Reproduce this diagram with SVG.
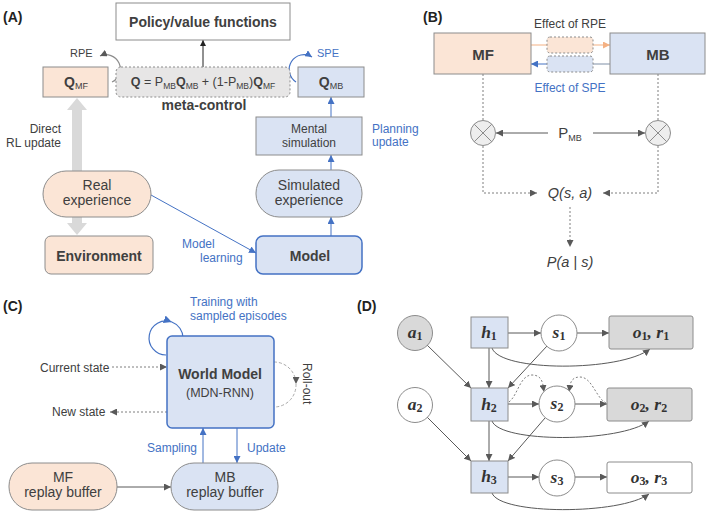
<svg xmlns="http://www.w3.org/2000/svg" width="708" height="514" viewBox="0 0 708 514">
<defs>
<style>
text{font-family:"Liberation Sans",Arial,sans-serif;fill:#404040}
.b{font-weight:bold}
.lab{font-weight:bold;font-size:14px;fill:#222}
.blue{fill:#4472c4}
.peach{fill:#fbe5d6;stroke:#8c8c8c;stroke-width:1}
.lblue{fill:#dae3f3;stroke:#8c8c8c;stroke-width:1}
.gry{fill:#d9d9d9;stroke:#8c8c8c;stroke-width:1}
.wht{fill:#fff;stroke:#8c8c8c;stroke-width:1}
.bst{stroke:#4472c4;stroke-width:1.5}
.cg{fill:none;stroke:#595959;stroke-width:1}
.cgd{fill:none;stroke:#7f7f7f;stroke-width:1;stroke-dasharray:2,2}
.cb{fill:none;stroke:#4472c4;stroke-width:1}
.m{font-family:"Liberation Serif","DejaVu Serif",serif;font-weight:bold;font-style:italic;font-size:17.5px;fill:#333}
.ms{font-style:normal;font-size:12px}
</style>
<marker id="ag" viewBox="0 0 10 10" refX="10" refY="5" markerWidth="7" markerHeight="7" orient="auto" markerUnits="userSpaceOnUse"><path d="M0,0L10,5L0,10z" fill="#595959"/></marker>
<marker id="ab" viewBox="0 0 10 10" refX="10" refY="5" markerWidth="7" markerHeight="7" orient="auto" markerUnits="userSpaceOnUse"><path d="M0,0L10,5L0,10z" fill="#4472c4"/></marker>
<marker id="ao" viewBox="0 0 10 10" refX="10" refY="5" markerWidth="7" markerHeight="7" orient="auto" markerUnits="userSpaceOnUse"><path d="M0,0L10,5L0,10z" fill="#f4b183"/></marker>
<marker id="ak" viewBox="0 0 10 10" refX="10" refY="5" markerWidth="6" markerHeight="6" orient="auto" markerUnits="userSpaceOnUse"><path d="M0,0L10,5L0,10z" fill="#222"/></marker>
<marker id="al" viewBox="0 0 10 10" refX="10" refY="5" markerWidth="8" markerHeight="8" orient="auto" markerUnits="userSpaceOnUse"><path d="M0,0L10,5L0,10z" fill="#4472c4"/></marker>
</defs>
<rect width="708" height="514" fill="#fff"/>

<!-- panel labels -->
<text class="lab" x="3" y="22">(A)</text>
<text class="lab" x="423" y="22">(B)</text>
<text class="lab" x="3" y="311">(C)</text>
<text class="lab" x="357" y="311">(D)</text>

<g id="connectors">
  <!-- A -->
  <polygon points="77,98 87,110 82,110 82,223 87,223 77,235 67,223 72,223 72,110 67,110" fill="#d9d9d9"/>
  <line x1="203" y1="67" x2="203" y2="40" stroke="#222" stroke-width="1" marker-end="url(#ak)"/>
  <path d="M112,82 A14,14 0 1 0 100,56" fill="none" stroke="#8c8c8c" stroke-width="1.2" marker-end="url(#ag)"/>
  <path d="M296,82 A14,14 0 1 1 312,57" fill="none" stroke="#4472c4" stroke-width="1.2" marker-end="url(#ab)"/>
  <line class="cb" x1="331" y1="117" x2="331" y2="97" marker-end="url(#ab)"/>
  <line class="cb" x1="331" y1="170" x2="331" y2="155" marker-end="url(#ab)"/>
  <line class="cb" x1="331" y1="236" x2="331" y2="217" marker-end="url(#ab)"/>
  <line class="cb" x1="151" y1="195" x2="256" y2="253" marker-end="url(#ab)"/>
  <!-- B -->
  <line x1="531" y1="45" x2="547" y2="45" stroke="#f4b183" stroke-width="1"/>
  <line x1="593" y1="45" x2="610" y2="45" stroke="#f4b183" stroke-width="1" marker-end="url(#ao)"/>
  <line x1="610" y1="64" x2="593" y2="64" stroke="#7f8fa6" stroke-width="1"/>
  <line x1="547" y1="64" x2="531" y2="64" stroke="#4472c4" stroke-width="1" marker-end="url(#ab)"/>
  <line class="cgd" x1="483" y1="74" x2="483" y2="120"/>
  <line class="cgd" x1="658" y1="74" x2="658" y2="120"/>
  <line class="cg" x1="548" y1="133" x2="496" y2="133" marker-end="url(#ag)"/>
  <line class="cg" x1="593" y1="133" x2="645" y2="133" marker-end="url(#ag)"/>
  <path class="cgd" d="M483,146 V193 H537" marker-end="url(#ag)"/>
  <path class="cgd" d="M658,146 V193 H603" marker-end="url(#ag)"/>
  <line class="cgd" x1="570" y1="207" x2="570" y2="247" marker-end="url(#ag)"/>
  <!-- C -->
  <path d="M166,355 A17,17 0 1 1 171.8,322" fill="none" stroke="#4472c4" stroke-width="1.2" marker-end="url(#al)"/>
  <path d="M171.8,322 A17,17 0 0 1 183,338" fill="none" stroke="#4472c4" stroke-width="1.2"/>
  <line class="cgd" x1="112" y1="367" x2="167" y2="367" marker-end="url(#ag)"/>
  <line class="cgd" x1="167" y1="412" x2="110" y2="412" marker-end="url(#ag)"/>
  <path d="M274,362 A22,22 0 0 1 296,384" fill="none" stroke="#aaa" stroke-width="1" stroke-dasharray="3,2" marker-end="url(#ag)"/>
  <path d="M296,384 A22,22 0 0 1 275,407" fill="none" stroke="#aaa" stroke-width="1" stroke-dasharray="3,2"/>
  <line class="cb" x1="203" y1="463" x2="203" y2="428" marker-end="url(#ab)"/>
  <line class="cb" x1="237" y1="428" x2="237" y2="463" marker-end="url(#ab)"/>
  <line class="cg" x1="117" y1="487" x2="171" y2="487" marker-end="url(#ag)"/>
  <!-- D -->
  <line class="cg" x1="508" y1="333" x2="541" y2="333" marker-end="url(#ag)"/>
  <line class="cg" x1="577" y1="333" x2="609" y2="333" marker-end="url(#ag)"/>
  <path class="cg" d="M492,348 C500,372 620,372 650,349" marker-end="url(#ag)"/>
  <line class="cg" x1="427" y1="345" x2="471" y2="388" marker-end="url(#ag)"/>
  <line class="cg" x1="489" y1="348" x2="489" y2="388" marker-end="url(#ag)"/>
  <line class="cg" x1="547" y1="346" x2="508" y2="388" marker-end="url(#ag)"/>
  <line class="cg" x1="508" y1="404" x2="539" y2="404" marker-end="url(#ag)"/>
  <line class="cg" x1="575" y1="404" x2="607" y2="404" marker-end="url(#ag)"/>
  <path class="cgd" d="M509,402 C518,395 520,375 532,375 C543,375 543,385 544,392" marker-end="url(#ag)"/>
  <path class="cgd" d="M606,403 C596,398 592,377 580,377 C570,377 570,385 569,392" marker-end="url(#ag)"/>
  <path class="cg" d="M492,421 C500,443 620,443 649,421" marker-end="url(#ag)"/>
  <line class="cg" x1="427" y1="417" x2="471" y2="461" marker-end="url(#ag)"/>
  <line class="cg" x1="489" y1="421" x2="489" y2="461" marker-end="url(#ag)"/>
  <line class="cg" x1="545" y1="418" x2="508" y2="461" marker-end="url(#ag)"/>
  <line class="cg" x1="508" y1="477" x2="539" y2="477" marker-end="url(#ag)"/>
  <line class="cg" x1="575" y1="477" x2="607" y2="477" marker-end="url(#ag)"/>
  <path class="cg" d="M492,493 C500,515 620,515 649,494" marker-end="url(#ag)"/>
</g>

<!-- Panel A nodes -->
<g id="policy">
  <rect x="116" y="3" width="174" height="37" fill="#fff" stroke="#8c8c8c"/>
  <text x="203" y="27" text-anchor="middle" class="b" font-size="14">Policy/value functions</text>
</g>
<g id="qmf">
  <rect x="43" y="67" width="65" height="30" class="peach"/>
  <text x="76" y="87" text-anchor="middle" font-size="14"><tspan class="b">Q</tspan><tspan font-size="9" dy="2">MF</tspan></text>
</g>
<g id="metacontrol">
  <rect x="116" y="67" width="174" height="30" rx="5" fill="#e7e6e6" stroke="#8c8c8c" stroke-dasharray="2,2"/>
  <text x="203" y="86" text-anchor="middle" font-size="12.5" fill="#222"><tspan class="b">Q</tspan> = P<tspan font-size="8.5" dy="3">MB</tspan><tspan class="b" dy="-3">Q</tspan><tspan font-size="8.5" dy="3">MB</tspan><tspan dy="-3"> + (1-P</tspan><tspan font-size="8.5" dy="3">MB</tspan><tspan dy="-3">)</tspan><tspan class="b">Q</tspan><tspan font-size="8.5" dy="3">MF</tspan></text>
  <text x="204" y="110" text-anchor="middle" class="b" font-size="14" fill="#222">meta-control</text>
</g>
<g id="qmb">
  <rect x="298" y="67" width="66" height="30" class="lblue"/>
  <text x="331" y="87" text-anchor="middle" font-size="14"><tspan class="b">Q</tspan><tspan font-size="9" dy="2">MB</tspan></text>
</g>
<text x="70" y="57" font-size="11" fill="#666">RPE</text>
<text x="317" y="57" font-size="11" class="blue">SPE</text>
<text x="61" y="133" font-size="12" text-anchor="end" fill="#555">Direct</text>
<text x="61" y="147" font-size="12" text-anchor="end" fill="#555">RL update</text>
<g id="mental">
  <rect x="256" y="117" width="106" height="38" class="lblue"/>
  <text x="309" y="133" text-anchor="middle" font-size="12">Mental</text>
  <text x="309" y="147" text-anchor="middle" font-size="12">simulation</text>
</g>
<text x="372" y="133" font-size="12" class="blue">Planning</text>
<text x="372" y="146" font-size="12" class="blue">update</text>
<g id="realexp">
  <rect x="43" y="171" width="108" height="46" rx="23" class="peach"/>
  <text x="97" y="190" text-anchor="middle" font-size="14">Real</text>
  <text x="97" y="205" text-anchor="middle" font-size="14">experience</text>
</g>
<g id="simexp">
  <rect x="256" y="170" width="106" height="47" rx="23" class="lblue"/>
  <text x="309" y="190" text-anchor="middle" font-size="14">Simulated</text>
  <text x="309" y="205" text-anchor="middle" font-size="14">experience</text>
</g>
<g id="environment">
  <rect x="45" y="236" width="108" height="38" rx="6" class="peach"/>
  <text x="99" y="261" text-anchor="middle" class="b" font-size="14" fill="#333">Environment</text>
</g>
<text x="182" y="248" font-size="12" class="blue">Model</text>
<text x="200" y="262" font-size="12" class="blue">learning</text>
<g id="model">
  <rect x="256" y="236" width="106" height="38" rx="7" fill="#dae3f3" class="bst"/>
  <text x="310" y="261" text-anchor="middle" class="b" font-size="14" fill="#333">Model</text>
</g>

<!-- Panel B -->
<text x="570" y="28" text-anchor="middle" font-size="12" fill="#ed7d31">Effect of RPE</text>
<text x="570" y="92" text-anchor="middle" font-size="12" class="blue">Effect of SPE</text>
<g id="mf">
  <rect x="434" y="33" width="97" height="41" class="peach"/>
  <text x="483" y="60" text-anchor="middle" class="b" font-size="15" fill="#333">MF</text>
</g>
<g id="mb">
  <rect x="610" y="33" width="95" height="41" class="lblue"/>
  <text x="658" y="60" text-anchor="middle" class="b" font-size="15" fill="#333">MB</text>
</g>
<g id="rpebox"><rect x="547" y="37" width="46" height="16" rx="3" fill="#fbe5d6" stroke="#8c8c8c" stroke-dasharray="2,2"/></g>
<g id="spebox"><rect x="547" y="56" width="46" height="16" rx="3" fill="#dae3f3" stroke="#8c8c8c" stroke-dasharray="2,2"/></g>
<g id="mulL">
  <circle cx="483" cy="133" r="12.5" fill="#eee" stroke="#8c8c8c"/>
  <path d="M474.2,124.2 L491.8,141.8 M491.8,124.2 L474.2,141.8" stroke="#8c8c8c"/>
</g>
<g id="mulR">
  <circle cx="658" cy="133" r="12.5" fill="#eee" stroke="#8c8c8c"/>
  <path d="M649.2,124.2 L666.8,141.8 M666.8,124.2 L649.2,141.8" stroke="#8c8c8c"/>
</g>
<g id="pmb"><text x="570" y="138" text-anchor="middle" font-size="15" fill="#333">P<tspan font-size="9" dy="3">MB</tspan></text></g>
<g id="qsa"><text x="570" y="198" text-anchor="middle" font-size="14.5" font-style="italic" fill="#333">Q(s, a)</text></g>
<g id="pas"><text x="570" y="267" text-anchor="middle" font-size="14.5" font-style="italic" fill="#333">P(a | s)</text></g>

<!-- Panel C -->
<text x="190" y="306" font-size="12" class="blue">Training with</text>
<text x="190" y="320" font-size="12" class="blue">sampled episodes</text>
<text x="40" y="372" font-size="12" fill="#555">Current state</text>
<text x="52" y="416" font-size="12" fill="#555">New state</text>
<g id="worldmodel">
  <rect x="167" y="336" width="107" height="92" rx="5" fill="#dae3f3" class="bst"/>
  <text x="220" y="379" text-anchor="middle" class="b" font-size="14" fill="#333">World Model</text>
  <text x="220" y="397" text-anchor="middle" font-size="12.5">(MDN-RNN)</text>
</g>
<text transform="translate(303,363) rotate(90)" font-size="12" fill="#444">Roll-out</text>
<text x="147" y="452" font-size="12" class="blue">Sampling</text>
<text x="247" y="452" font-size="12" class="blue">Update</text>
<g id="mfbuffer">
  <rect x="9" y="463" width="108" height="47" rx="23" class="peach"/>
  <text x="63" y="482" text-anchor="middle" font-size="14">MF</text>
  <text x="63" y="497" text-anchor="middle" font-size="14">replay buffer</text>
</g>
<g id="mbbuffer">
  <rect x="171" y="463" width="107" height="47" rx="23" class="lblue"/>
  <text x="225" y="482" text-anchor="middle" font-size="14">MB</text>
  <text x="225" y="497" text-anchor="middle" font-size="14">replay buffer</text>
</g>

<!-- Panel D -->
<g id="a1"><circle cx="415" cy="333" r="17.5" class="gry"/><text class="m" x="415" y="338" text-anchor="middle">a<tspan class="ms" dy="2">1</tspan></text></g>
<g id="h1"><rect x="471" y="317" width="37" height="31" class="lblue"/><text class="m" x="489" y="338" text-anchor="middle">h<tspan class="ms" dy="2">1</tspan></text></g>
<g id="s1"><circle cx="559" cy="333" r="18" class="wht"/><text class="m" x="559" y="338" text-anchor="middle">s<tspan class="ms" dy="2">1</tspan></text></g>
<g id="o1r1"><rect x="609" y="316" width="84" height="33" rx="2" class="gry"/><text class="m" x="651" y="338" text-anchor="middle">o<tspan class="ms" dy="2">1</tspan><tspan dy="-2">, r</tspan><tspan class="ms" dy="2">1</tspan></text></g>
<g id="a2"><circle cx="415" cy="405" r="17.5" class="wht"/><text class="m" x="415" y="410" text-anchor="middle">a<tspan class="ms" dy="2">2</tspan></text></g>
<g id="h2"><rect x="471" y="388" width="37" height="33" class="lblue"/><text class="m" x="489" y="410" text-anchor="middle">h<tspan class="ms" dy="2">2</tspan></text></g>
<g id="s2"><circle cx="557" cy="404" r="18" class="wht"/><text class="m" x="557" y="409" text-anchor="middle">s<tspan class="ms" dy="2">2</tspan></text></g>
<g id="o2r2"><rect x="607" y="388" width="85" height="33" rx="2" class="gry"/><text class="m" x="649" y="410" text-anchor="middle">o<tspan class="ms" dy="2">2</tspan><tspan dy="-2">, r</tspan><tspan class="ms" dy="2">2</tspan></text></g>
<g id="h3"><rect x="471" y="461" width="37" height="32" class="lblue"/><text class="m" x="489" y="482" text-anchor="middle">h<tspan class="ms" dy="2">3</tspan></text></g>
<g id="s3"><circle cx="557" cy="478" r="18" class="wht"/><text class="m" x="557" y="483" text-anchor="middle">s<tspan class="ms" dy="2">3</tspan></text></g>
<g id="o3r3"><rect x="607" y="462" width="85" height="31" rx="2" class="wht"/><text class="m" x="649" y="483" text-anchor="middle">o<tspan class="ms" dy="2">3</tspan><tspan dy="-2">, r</tspan><tspan class="ms" dy="2">3</tspan></text></g>
</svg>
